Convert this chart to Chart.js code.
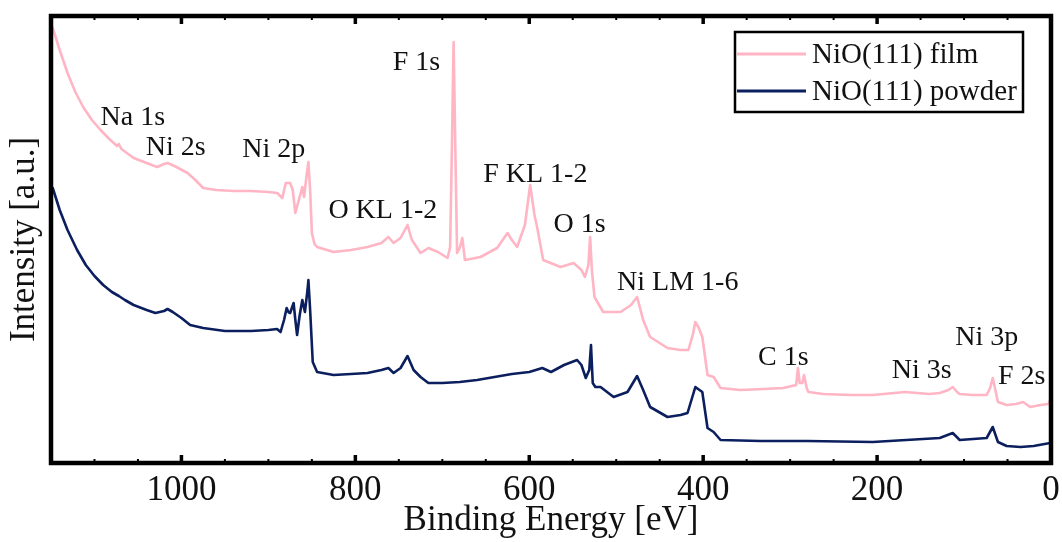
<!DOCTYPE html>
<html>
<head>
<meta charset="utf-8">
<script src="https://cdn.jsdelivr.net/npm/chart.js@4.4.1/dist/chart.umd.min.js"></script>
<style>
  html, body { margin: 0; padding: 0; background: #ffffff; }
  #wrap { width: 1062px; height: 542px; }
</style>
</head>
<body>
<div id="wrap"><canvas id="c" width="1062" height="542"></canvas></div>
<script>
// XPS survey spectra, binding energy in eV, intensity in arbitrary units
const filmEnergy = [1148,1140,1131,1122,1113,1103,1093,1083,1074,1072,1069,1055,1040,1028,1020,1016,1008,993,984,975,960,940,920,900,890,884,880,875,872,869,865,861,859,856,854,852,850,847,844,825,805,786,770,762,756,748,740,735,725,716,705,694,691,689,687,685,683,680,677,674,656,637,625,620,614,605,599,594,591,584,564,549,540,536,532,530,528,525,515,495,483,476,469,461,441,426,417,412,409,405,401,395,388,380,357,330,308,293,291,289,286,284,281,279,262,230,205,168,140,128,118,113,108,105,90,74,70,67,64,61,51,40,32,24,12,3,1];
const filmIntensity = [435,413,390,371,356,343,333,324,317,319,314,305,300,296,299,300,297,290,283,275,273,272,272,271,270,265,280,280,273,250,263,276,266,288,301,273,230,219,216,211,213,216,220,226,220,225,238,223,210,215,211,205,216,313,421,313,210,215,225,203,206,215,230,223,216,238,278,248,236,203,196,200,193,186,198,226,193,166,151,151,158,166,143,126,115,113,113,128,141,135,126,88,86,75,73,74,75,78,95,80,80,88,75,71,69,68,68,71,69,70,73,76,71,69,68,68,75,85,73,61,58,59,61,56,58,59,63];

const powderEnergy = [1148,1140,1131,1120,1110,1100,1090,1080,1072,1065,1055,1040,1030,1020,1016,1010,1000,990,975,950,920,900,890,886,882,879,877,875,871,869,867,864,861,858,855,854,852,849,844,825,805,786,770,762,756,748,740,733,725,716,700,680,660,640,620,600,585,575,560,545,540,535,531,529,527,524,518,503,487,476,469,461,441,426,418,409,401,395,388,380,334,280,205,128,113,105,74,67,61,51,35,20,1];
const powderIntensity = [275,253,233,213,198,187,178,171,167,163,158,153,150,152,154,151,145,138,135,132,132,133,134,131,143,155,151,150,160,143,128,148,163,151,173,183,153,101,91,88,89,90,93,95,90,95,107,93,86,80,80,81,83,86,89,91,95,91,98,103,98,85,93,118,80,76,76,66,71,87,73,56,46,48,50,76,71,35,31,23,22,22,21,25,30,23,25,36,21,17,16,17,20];

const seriesNames = ['NiO(111) film', 'NiO(111) powder'];
const seriesColors = ['#ffb5c3', '#0b1f5e'];
const energyTicks = [0, 200, 400, 600, 800, 1000];

// Peak assignments: text, binding energy at the label's left edge, intensity at its baseline
const peakNames = ['Na 1s', 'Ni 2s', 'Ni 2p', 'O KL 1-2', 'F 1s', 'F KL 1-2', 'O 1s', 'Ni LM 1-6', 'C 1s', 'Ni 3s', 'Ni 3p', 'F 2s'];
const peakLabelEnergy = [1093, 1041, 930, 831, 757, 653, 572, 499, 337, 183, 110, 61];
const peakLabelIntensity = [338, 308, 306, 245, 393, 281, 231, 173, 98, 85, 118, 79];

const serif = "'Liberation Serif', 'Times New Roman', serif";

function toPoints(xs, ys) { return xs.map((x, i) => ({ x: x, y: ys[i] })); }

// Closed black frame with inward major/minor ticks on bottom and top edges
const framePlugin = {
  id: 'frame',
  afterDatasetsDraw(chart) {
    const { ctx, chartArea: a, scales: { x } } = chart;
    ctx.save();
    ctx.strokeStyle = '#000';
    ctx.lineCap = 'butt';
    for (let e = 0; e <= 1150; e += 50) {
      const px = x.getPixelForValue(e);
      const major = e % 200 === 0;
      const len = major ? 8 : 4;
      ctx.lineWidth = major ? 3.5 : 2;
      ctx.beginPath();
      ctx.moveTo(px, a.bottom); ctx.lineTo(px, a.bottom - len);
      ctx.moveTo(px, a.top); ctx.lineTo(px, a.top + len);
      ctx.stroke();
    }
    ctx.lineWidth = 4.5;
    ctx.strokeRect(a.left, a.top, a.right - a.left, a.bottom - a.top);
    ctx.restore();
  }
};

// Peak labels placed in data coordinates
const peakLabelPlugin = {
  id: 'peakLabels',
  afterDatasetsDraw(chart) {
    const { ctx, scales: { x, y } } = chart;
    ctx.save();
    ctx.fillStyle = '#111';
    ctx.font = '28px ' + serif;
    ctx.textAlign = 'left';
    ctx.textBaseline = 'alphabetic';
    peakNames.forEach((t, i) => {
      ctx.fillText(t, x.getPixelForValue(peakLabelEnergy[i]), y.getPixelForValue(peakLabelIntensity[i]));
    });
    ctx.restore();
  }
};

// Boxed legend in the upper right of the plot
const boxLegendPlugin = {
  id: 'boxLegend',
  afterDraw(chart) {
    const { ctx, chartArea: a } = chart;
    const boxR = a.right - 28, boxT = a.top + 16, boxW = 288, boxH = 80;
    const boxL = boxR - boxW;
    ctx.save();
    ctx.fillStyle = '#fff';
    ctx.fillRect(boxL, boxT, boxW, boxH);
    ctx.lineWidth = 2.5;
    ctx.strokeStyle = '#000';
    ctx.strokeRect(boxL, boxT, boxW, boxH);
    ctx.font = '29px ' + serif;
    ctx.textBaseline = 'alphabetic';
    chart.data.datasets.forEach((ds, i) => {
      const cy = boxT + 22 + i * 37;
      ctx.strokeStyle = ds.borderColor;
      ctx.lineWidth = 3;
      ctx.beginPath();
      ctx.moveTo(boxL + 2, cy); ctx.lineTo(boxL + 71, cy);
      ctx.stroke();
      ctx.fillStyle = '#111';
      ctx.fillText(ds.label, boxL + 77, cy + 9);
    });
    ctx.restore();
  }
};

new Chart(document.getElementById('c'), {
  type: 'line',
  data: {
    datasets: [
      { label: seriesNames[0], data: toPoints(filmEnergy, filmIntensity), borderColor: seriesColors[0], borderWidth: 2.6 },
      { label: seriesNames[1], data: toPoints(powderEnergy, powderIntensity), borderColor: seriesColors[1], borderWidth: 2.6 }
    ]
  },
  options: {
    responsive: false,
    animation: false,
    devicePixelRatio: 1,
    events: [],
    elements: { point: { radius: 0 }, line: { tension: 0, borderJoinStyle: 'round', borderCapStyle: 'round' } },
    layout: { padding: { top: 16, right: 11, left: 0, bottom: 0 } },
    plugins: { legend: { display: false }, tooltip: { enabled: false } },
    scales: {
      x: {
        type: 'linear',
        reverse: true,
        min: 0,
        max: 1150,
        afterBuildTicks(scale) { scale.ticks = energyTicks.map(v => ({ value: v })); },
        afterFit(scale) { scale.height = 79; },
        grid: { display: false, drawTicks: false },
        border: { display: false },
        ticks: { color: '#111', font: { family: serif, size: 35 }, padding: 7, maxRotation: 0, autoSkip: false,
                 callback: v => String(v) },
        title: { display: true, text: 'Binding Energy [eV]', color: '#111', font: { family: serif, size: 35 }, padding: 0 }
      },
      y: {
        min: 0,
        max: 447,
        afterFit(scale) { scale.width = 51; },
        grid: { display: false, drawTicks: false },
        border: { display: false },
        ticks: { display: false },
        title: { display: true, text: 'Intensity [a.u.]', color: '#111', font: { family: serif, size: 35 }, padding: { top: 4, bottom: 0 } }
      }
    }
  },
  plugins: [framePlugin, peakLabelPlugin, boxLegendPlugin]
});
</script>
</body>
</html>
